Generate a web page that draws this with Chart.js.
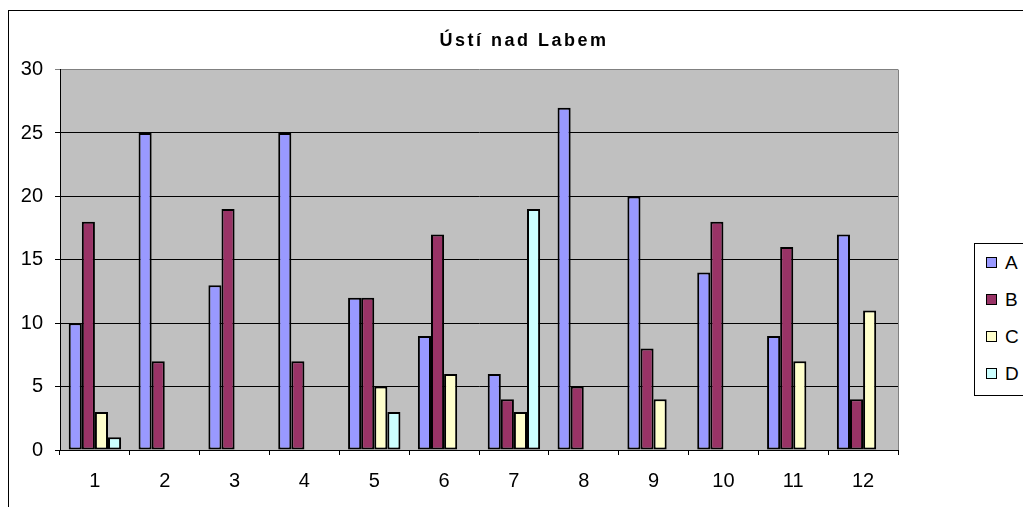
<!DOCTYPE html>
<html>
<head>
<meta charset="utf-8">
<script src="https://cdn.jsdelivr.net/npm/chart.js@4"></script>
<style>
  html, body { margin: 0; padding: 0; background: #fff; overflow: hidden; }
  #frame { position: absolute; left: 8px; top: 10px; width: 1040px; height: 510px; border: 1px solid #000; }
  #chart { position: absolute; left: 0; top: 0; }
  #legend { position: absolute; left: 974px; top: 243px; width: 70px; height: 151px; border: 1px solid #000; background: #fff;
            font-family: Arial, "Liberation Sans", sans-serif; font-size: 19px; }
  .item { position: absolute; left: 11px; height: 22px; line-height: 22px; }
  .swatch { display: inline-block; width: 9px; height: 9px; border: 1.5px solid #000; margin-right: 8px; vertical-align: 1px; }
</style>
</head>
<body>
<div id="frame">
  <canvas id="chart" width="1030" height="497"></canvas>
</div>
<div id="legend"></div>
<script>
const categories = ['1', '2', '3', '4', '5', '6', '7', '8', '9', '10', '11', '12'];
const seriesA = [10, 25, 13, 25, 12, 9, 6, 27, 20, 14, 9, 17];
const seriesB = [18, 7, 19, 7, 12, 17, 4, 5, 8, 18, 16, 4];
const seriesC = [3, null, null, null, 5, 6, 3, null, 4, null, 7, 11];
const seriesD = [1, null, null, null, 3, null, 19, null, null, null, null, null];
const yTicks = [0, 5, 10, 15, 20, 25, 30];

const FONT = 'Arial, "Liberation Sans", sans-serif';

const plotArea = {
    id: 'plotArea',
    beforeDraw(chart) {
        const { ctx, chartArea: a } = chart;
        ctx.save();
        ctx.fillStyle = '#C0C0C0';
        ctx.fillRect(a.left, a.top, a.right - a.left, a.bottom - a.top);
        ctx.restore();
    },
    afterDatasetsDraw(chart) {
        const { ctx, chartArea: a } = chart;
        ctx.save();
        ctx.strokeStyle = '#808080';
        ctx.lineWidth = 1;
        ctx.beginPath();
        ctx.moveTo(a.right + 0.5, a.top);
        ctx.lineTo(a.right + 0.5, a.bottom);
        ctx.stroke();
        ctx.restore();
    }
};

const bar = (label, data, color) => ({
    label,
    data,
    backgroundColor: color,
    borderColor: '#000',
    borderWidth: 2,
    borderSkipped: false,
    categoryPercentage: 0.75,
    barPercentage: 1
});

const chart = new Chart(document.getElementById('chart'), {
    type: 'bar',
    data: {
        labels: categories,
        datasets: [
            bar('A', seriesA, '#9999FF'),
            bar('B', seriesB, '#993366'),
            bar('C', seriesC, '#FFFFCC'),
            bar('D', seriesD, '#CCFFFF')
        ]
    },
    options: {
        responsive: false,
        animation: false,
        layout: { padding: 0 },
        plugins: {
            legend: { display: false },
            tooltip: { enabled: false },
            title: {
                display: true,
                text: 'Ústí nad Labem',
                color: '#000',
                font: { family: FONT, size: 18, weight: 'bold', lineHeight: 1.2 },
                padding: { top: 19, bottom: 18 },
                fullSize: true
            }
        },
        scales: {
            x: {
                grid: { offset: true, drawOnChartArea: false, drawTicks: true, tickLength: 5, color: '#000' },
                border: { display: true, color: '#000', width: 1 },
                ticks: { color: '#000', font: { family: FONT, size: 20 }, padding: 14, maxRotation: 0 },
                afterFit(scale) { scale.height = 58; }
            },
            y: {
                min: 0,
                max: 30,
                afterBuildTicks(scale) { scale.ticks = yTicks.map(v => ({ value: v })); },
                grid: {
                    color: c => (c.tick && c.tick.value === 30 ? '#808080' : '#000'),
                    tickLength: 5,
                    lineWidth: 1
                },
                border: { display: true, color: '#000', width: 1 },
                ticks: { color: '#000', font: { family: FONT, size: 20 }, padding: 12 },
                afterFit(scale) { scale.width = 51; }
            },
            // empty right-hand strip that leaves room for the legend
            side: {
                position: 'right',
                min: 0,
                max: 30,
                grid: { display: false },
                border: { display: false },
                ticks: { display: false },
                afterFit(scale) { scale.width = 141; }
            }
        }
    },
    plugins: [plotArea]
});

// Excel-style spaced title lettering
const title = chart.titleBlock;
const drawTitle = title.draw;
title.draw = function () {
    const ctx = this.ctx;
    ctx.save();
    ctx.letterSpacing = '2.5px';
    drawTitle.apply(this, arguments);
    ctx.restore();
};
chart.draw();

// legend box built from the chart's datasets
const legend = document.getElementById('legend');
chart.data.datasets.forEach((ds, i) => {
    const row = document.createElement('div');
    row.className = 'item';
    row.style.top = (8 + i * 37) + 'px';
    row.innerHTML = '<span class="swatch" style="background:' + ds.backgroundColor + '"></span>' + ds.label;
    legend.appendChild(row);
});
</script>
</body>
</html>
